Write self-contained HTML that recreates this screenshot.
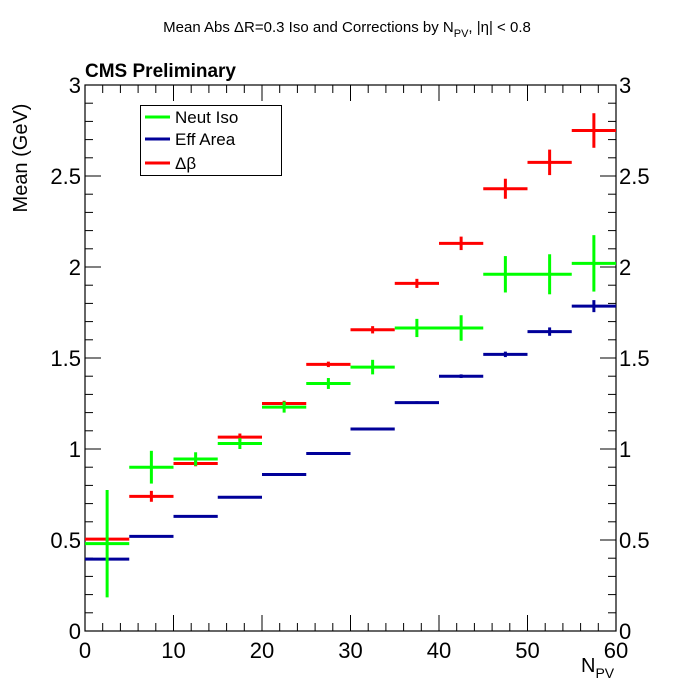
<!DOCTYPE html>
<html><head><meta charset="utf-8">
<style>
html,body{margin:0;padding:0;background:#fff;}
svg{display:block;font-family:"Liberation Sans",Arial,sans-serif;}
</style></head>
<body>
<svg id="chart" width="700" height="700" viewBox="0 0 700 700" xmlns="http://www.w3.org/2000/svg">
<rect x="0" y="0" width="700" height="700" fill="#fff"/>
<text x="347" y="32" font-size="15" text-anchor="middle">Mean Abs ΔR=0.3 Iso and Corrections by N<tspan font-size="11" dy="5">PV</tspan><tspan dy="-5">, |η| &lt; 0.8</tspan></text>
<text x="85" y="77" font-size="19" font-weight="bold">CMS Preliminary</text>
<text transform="translate(27,158) rotate(-90)" font-size="20" text-anchor="middle">Mean (GeV)</text>
<text x="581" y="672" font-size="20">N<tspan font-size="14" dy="6">PV</tspan></text>
<g id="axes"></g>
<g id="marks"></g>
<g>
<rect x="140.5" y="105.5" width="141" height="70" fill="#fff" stroke="#000" stroke-width="1"/>
<line x1="145" y1="117" x2="170" y2="117" stroke="#00ff00" stroke-width="3"/>
<text x="175" y="123" font-size="17">Neut Iso</text>
<line x1="145" y1="139" x2="170" y2="139" stroke="#000099" stroke-width="3"/>
<text x="175" y="145" font-size="17">Eff Area</text>
<line x1="145" y1="163" x2="170" y2="163" stroke="#ff0000" stroke-width="3"/>
<text x="175" y="169" font-size="17">Δβ</text>
</g>
</svg>
<script>
const binEdges = [0,5,10,15,20,25,30,35,40,45,50,55,60];
const neutIso = [0.48,0.90,0.945,1.03,1.23,1.36,1.45,1.665,1.665,1.96,1.96,2.02];
const neutIsoErr = [0.295,0.09,0.037,0.03,0.03,0.03,0.04,0.05,0.07,0.10,0.11,0.155];
const effArea = [0.395,0.52,0.63,0.735,0.86,0.975,1.11,1.255,1.40,1.52,1.645,1.785];
const effAreaErr = [0.005,0.005,0.005,0.005,0.005,0.005,0.005,0.007,0.01,0.015,0.023,0.033];
const deltaBeta = [0.505,0.74,0.92,1.065,1.25,1.465,1.655,1.91,2.13,2.43,2.575,2.75];
const deltaBetaErr = [0.01,0.03,0.015,0.02,0.015,0.015,0.02,0.025,0.037,0.055,0.07,0.095];
const xTicks = [0,10,20,30,40,50,60];
const yTicks = [0,0.5,1,1.5,2,2.5,3];
const yTickLabels = ["0","0.5","1","1.5","2","2.5","3"];

const X0=85,X1=616,Y0=631,Y1=85;
const xMin=0,xMax=60,yMin=0,yMax=3;
function sx(v){return X0+(v-xMin)/(xMax-xMin)*(X1-X0);}
function sy(v){return Y0-(v-yMin)/(yMax-yMin)*(Y0-Y1);}
const NS="http://www.w3.org/2000/svg";
function mk(tag,attrs,parent){const e=document.createElementNS(NS,tag);for(const k in attrs)e.setAttribute(k,attrs[k]);parent.appendChild(e);return e;}
const axes=document.getElementById('axes');
const marks=document.getElementById('marks');

let f=mk('rect',{x:X0,y:Y1,width:X1-X0,height:Y0-Y1,fill:'none',stroke:'#000','stroke-width':1.2},axes);



// x ticks
for(let v=xMin;v<=xMax+1e-9;v+=2){
  const major=Math.abs(v%10)<1e-9;
  const L=major?16:8;
  const x=sx(v);
  let t=mk('line',{x1:x,y1:Y0,x2:x,y2:Y0-L,stroke:'#000','stroke-width':1},axes);
  
  
  let t2=mk('line',{x1:x,y1:Y1,x2:x,y2:Y1+L,stroke:'#000','stroke-width':1},axes);
  
  
}
xTicks.forEach(v=>{
  let t=mk('text',{x:sx(v),y:Y0+27,'font-size':22,'text-anchor':'middle'},axes);
  t.textContent=String(v);
  
  
});
// y ticks
for(let i=0;i<=30;i++){
  const v=i*0.1;
  const major=i%5===0;
  const L=major?16:8;
  const y=sy(v);
  let t=mk('line',{x1:X0,y1:y,x2:X0+L,y2:y,stroke:'#000','stroke-width':1},axes);
  
  
  let t2=mk('line',{x1:X1,y1:y,x2:X1-L,y2:y,stroke:'#000','stroke-width':1},axes);
  
  
}
yTicks.forEach((v,i)=>{
  let t=mk('text',{x:X0-4,y:sy(v)+8,'font-size':22,'text-anchor':'end'},axes);
  t.textContent=yTickLabels[i];
  
  
  let t2=mk('text',{x:X1+3,y:sy(v)+8,'font-size':22,'text-anchor':'start'},axes);
  t2.textContent=yTickLabels[i];
  
  
});

function drawSeries(vals,errs,color,name){
  const g=mk('g',{},marks);
  
  
  vals.forEach((v,i)=>{
    const xa=sx(binEdges[i]),xb=sx(binEdges[i+1]),xc=(xa+xb)/2;
    let h=mk('line',{x1:xa,y1:sy(v),x2:xb,y2:sy(v),stroke:color,'stroke-width':3},g);
    
    
    let e=mk('line',{x1:xc,y1:sy(v+errs[i]),x2:xc,y2:sy(v-errs[i]),stroke:color,'stroke-width':3},g);
    
    
  });
}
drawSeries(effArea,effAreaErr,'#000099','eff-area');
drawSeries(deltaBeta,deltaBetaErr,'#ff0000','delta-beta');
drawSeries(neutIso,neutIsoErr,'#00ff00','neut-iso');
</script>
</body></html>
